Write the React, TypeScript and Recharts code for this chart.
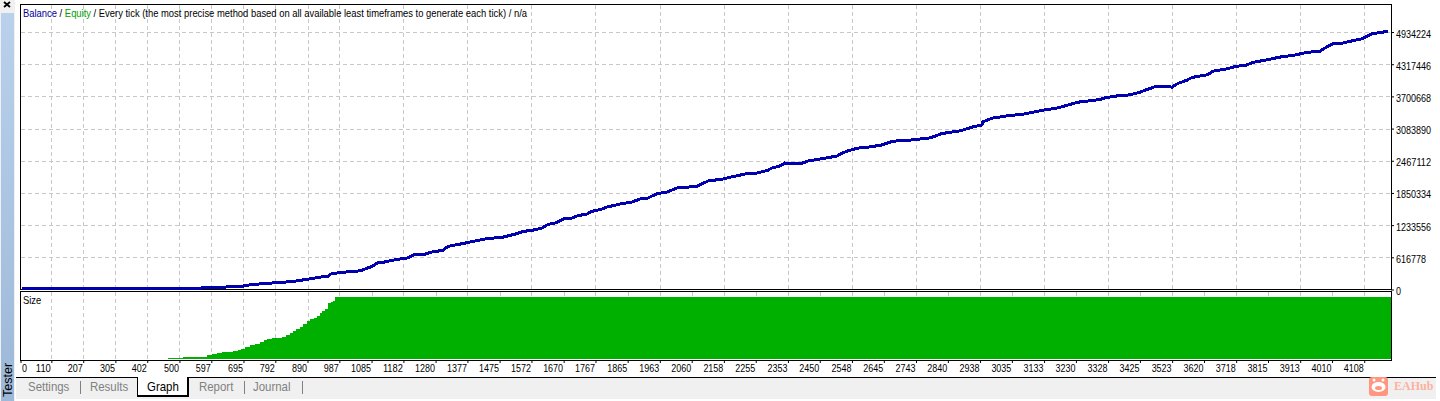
import React from "react";
import {
  CartesianGrid,
  ComposedChart,
  Area,
  Line,
  XAxis,
  YAxis,
} from "recharts";

// trade number at each read point of the balance curve
const tradeIds = [
  19, 500, 561, 567, 637, 643, 692, 698, 722, 759, 804, 844, 890, 926, 951, 957,
  987, 1039, 1054, 1079, 1094, 1103, 1118, 1139, 1161, 1191, 1216, 1246, 1270,
  1301, 1316, 1359, 1407, 1435, 1484, 1526, 1545, 1572, 1602, 1621, 1642, 1672,
  1694, 1712, 1739, 1755, 1785, 1800, 1846, 1876, 1901, 1925, 1953, 1983, 2014,
  2074, 2108, 2154, 2184, 2227, 2257, 2288, 2303, 2327, 2342, 2364, 2397, 2413,
  2458, 2501, 2516, 2534, 2562, 2601, 2638, 2671, 2729, 2784, 2821, 2875, 2915,
  2942, 2945, 2973, 3019, 3073, 3128, 3174, 3210, 3235, 3262, 3302, 3317, 3347,
  3393, 3424, 3445, 3475, 3506, 3521, 3539, 3567, 3582, 3628, 3637, 3646, 3689,
  3719, 3743, 3768, 3810, 3850, 3890, 3932, 3972, 3993, 4017, 4042, 4063, 4100,
  4130, 4179,
];

const balanceValues = [
  23000, 23000, 23000, 48000, 48000, 67200, 73000, 86400, 105600, 124800, 144000,
  163200, 207300, 245700, 264900, 303300, 336000, 360900, 380100, 437700, 483800,
  528000, 528000, 560600, 585600, 610500, 681600, 687300, 733400, 758400, 835200,
  887000, 950400, 983000, 1013700, 1079000, 1123100, 1142300, 1186500, 1257500,
  1282500, 1372700, 1378500, 1424600, 1455300, 1507100, 1551300, 1589700, 1655000,
  1685700, 1743300, 1762500, 1846900, 1877700, 1954500, 1987100, 2088900, 2127200,
  2173300, 2230900, 2242400, 2288500, 2338400, 2376800, 2434400, 2415200, 2434400,
  2472800, 2518900, 2568800, 2620700, 2664800, 2716700, 2741600, 2780000, 2851100,
  2876000, 2914400, 2998900, 3048800, 3125600, 3164000, 3221600, 3292600, 3336800,
  3375200, 3446200, 3490400, 3555700, 3599800, 3619000, 3651700, 3682400, 3715000,
  3740000, 3791800, 3843600, 3907000, 3901200, 3887800, 3958800, 4022200, 4074000,
  4123900, 4150800, 4195000, 4239100, 4291000, 4296700, 4362000, 4411900, 4463800,
  4496400, 4554000, 4579000, 4661500, 4732600, 4732600, 4765200, 4815100, 4911100,
  4957200,
];

const sizeTrades = [
  16, 463, 509, 546, 582, 597, 613, 628, 643, 661, 676, 686, 698, 713, 728, 744, 756,
  765, 780, 798, 810, 823, 835, 844, 853, 865, 874, 887, 896, 908, 917, 926, 932, 941,
  948, 951, 960, 966, 972, 4188,
];
const sizeValues = [
  0, 1.6, 2.7, 4, 6.5, 7.6, 9.2, 10.5, 11.8, 12.9, 14.5, 16.9, 18.9, 21.8, 24.2, 27.9,
  30.2, 31.8, 33.4, 33.9, 36, 38.2, 42.4, 44.7, 47.6, 52.1, 56.5, 61.3, 64.5, 66.1,
  69.4, 74.2, 77.4, 79.8, 80.6, 89.5, 91.9, 92.7, 100, 100,
];

const yTicks = [0, 616778, 1233556, 1850334, 2467112, 3083890, 3700668, 4317446, 4934224];
const xTicks = [
  16, 110, 207, 305, 402, 500, 597, 695, 792, 890, 987, 1085, 1182, 1280, 1377, 1475,
  1572, 1670, 1767, 1865, 1963, 2060, 2158, 2255, 2353, 2450, 2548, 2645, 2743, 2840,
  2938, 3035, 3133, 3230, 3328, 3425, 3523, 3620, 3718, 3815, 3913, 4010, 4108,
];
const xLabels = ["0", ...xTicks.slice(1).map(String)];
const tabs = ["Settings", "Results", "Graph", "Report", "Journal"];

const balanceData = tradeIds.map((trade, i) => ({
  trade,
  balance: balanceValues[i],
  equity: balanceValues[i],
}));
const sizeData = sizeTrades.map((trade, i) => ({ trade, size: sizeValues[i] }));

const X_DOMAIN: [number, number] = [16, 4188];
const BLUE = "#0000b0";
const GREEN = "#00b000";
const GRID = "#c8c8c8";
const UI_FONT = "'Liberation Sans', sans-serif";
const DIGIT_W = 5;

// the terminal font is narrower than anything installed, so digits get squeezed
const XTick = ({ x, y, index }: any) => (
  <text
    x={index === 0 ? x + 1 : x - 1}
    y={y + 7}
    textAnchor={index === 0 ? "start" : "end"}
    fontFamily={UI_FONT}
    fontSize={11}
    fill="#000"
    textLength={xLabels[index].length * DIGIT_W}
    lengthAdjust="spacingAndGlyphs"
  >
    {xLabels[index]}
  </text>
);

const YTick = ({ x, y, payload }: any) => (
  <text
    x={x + 1}
    y={y + 5}
    fontFamily={UI_FONT}
    fontSize={11}
    fill="#000"
    textLength={String(payload.value).length * DIGIT_W}
    lengthAdjust="spacingAndGlyphs"
  >
    {payload.value}
  </text>
);

const box = (
  left: number,
  top: number,
  width: number,
  height: number,
  style: React.CSSProperties = {}
): React.CSSProperties => ({
  position: "absolute",
  left,
  top,
  width,
  height,
  boxSizing: "border-box",
  ...style,
});

const label = (
  left: number,
  top: number,
  color: string,
  squeeze = 1,
  size = 11
): React.CSSProperties => ({
  position: "absolute",
  left,
  top,
  color,
  fontFamily: UI_FONT,
  fontSize: size,
  lineHeight: "14px",
  whiteSpace: "nowrap",
  transform: `scaleX(${squeeze})`,
  transformOrigin: "0 0",
});

const tabLefts = [28, 90, 147, 199, 253];
const barLefts = [80, 244, 302];

const App = () => {
  return (
    <div style={box(0, 0, 1440, 401, { background: "#fff", overflow: "hidden" })}>
      {/* tester window chrome */}
      <div style={box(0, 0, 15, 401, { background: "#f0f0f0" })} />
      <div
        style={box(1, 13, 13, 388, {
          background: "linear-gradient(#b9d1ec, #9db8d8)",
        })}
      />
      <svg style={{ position: "absolute", left: 3, top: 1 }} width={8} height={7}>
        <path d="M1 1L7 6M7 1L1 6" stroke="#000" strokeWidth={1.8} />
      </svg>
      <div
        style={{
          ...label(1, 397, "#000", 1, 12.5),
          transform: "rotate(-90deg)",
        }}
      >
        Tester
      </div>

      {/* plot frames */}
      <div style={box(20, 4, 1372, 286, { border: "1px solid #000" })} />
      <div style={box(20, 291, 1372, 70, { border: "1px solid #000" })} />

      <div style={{ position: "absolute", left: 0, top: 0 }}>
        <ComposedChart
          width={1440}
          height={300}
          data={balanceData}
          margin={{ top: 5, right: 0, bottom: 10, left: 21 }}
        >
          <CartesianGrid
            stroke={GRID}
            strokeDasharray="4 3"
            shapeRendering="crispEdges"
            horizontalValues={yTicks.slice(1)}
            verticalValues={xTicks.slice(1)}
          />
          <XAxis dataKey="trade" type="number" domain={X_DOMAIN} ticks={xTicks} hide />
          <YAxis
            orientation="right"
            width={49}
            domain={[0, 5462000]}
            ticks={yTicks}
            interval={0}
            axisLine={false}
            tick={<YTick />}
            tickLine={{ stroke: "#000" }}
            tickSize={3}
            tickMargin={1}
          />
          <Line
            dataKey="equity"
            stroke={GREEN}
            strokeWidth={3}
            dot={false}
            isAnimationActive={false}
            shapeRendering="crispEdges"
          />
          <Line
            dataKey="balance"
            stroke={BLUE}
            strokeWidth={3}
            dot={false}
            isAnimationActive={false}
            shapeRendering="crispEdges"
          />
        </ComposedChart>
      </div>

      <div style={{ position: "absolute", left: 0, top: 285 }}>
        <ComposedChart
          width={1440}
          height={95}
          data={sizeData}
          margin={{ top: 7, right: 49, bottom: 0, left: 21 }}
        >
          <CartesianGrid
            stroke={GRID}
            strokeDasharray="4 3"
            shapeRendering="crispEdges"
            horizontal={false}
            verticalValues={xTicks.slice(1)}
          />
          <XAxis
            dataKey="trade"
            type="number"
            domain={X_DOMAIN}
            ticks={xTicks}
            interval={0}
            height={20}
            axisLine={false}
            tick={<XTick />}
            tickLine={{ stroke: "#000" }}
            tickSize={3}
          />
          <YAxis hide domain={[-1.6, 108]} />
          <Area
            dataKey="size"
            type="stepAfter"
            baseValue={0}
            stroke="none"
            fill={GREEN}
            fillOpacity={1}
            isAnimationActive={false}
            shapeRendering="crispEdges"
          />
        </ComposedChart>
      </div>

      {/* chart captions */}
      <div style={label(23, 6, "#000", 0.855)}>
        <span style={{ color: "#0000a0" }}>Balance</span> /{" "}
        <span style={{ color: "#00a000" }}>Equity</span> / Every tick (the most precise
        method based on all available least timeframes to generate each tick) / n/a
      </div>
      <div style={label(23, 293, "#000", 0.855)}>Size</div>

      {/* tab strip */}
      <div style={box(16, 378, 1420, 21, { background: "#f0f0f0" })} />
      <div style={box(16, 377, 1420, 1, { background: "#000" })} />
      <div
        style={box(137, 377, 52, 20, {
          background: "#fff",
          borderLeft: "1px solid #000",
          borderRight: "2px solid #000",
          borderBottom: "2px solid #000",
        })}
      />
      {tabs.map((t, i) => (
        <div key={t} style={label(tabLefts[i], 380, t === "Graph" ? "#000" : "#808080", 0.88, 13)}>
          {t}
        </div>
      ))}
      {barLefts.map((x) => (
        <div key={x} style={box(x, 381, 1, 13, { background: "#808080" })} />
      ))}

      {/* EAHub mark */}
      <svg style={{ position: "absolute", left: 1369, top: 376 }} width={20} height={20}>
        <rect x={0} y={1} width={19} height={19} rx={3} fill="#ff9680" />
        <ellipse cx={9.5} cy={11} rx={7} ry={5} fill="#fff" />
        <circle cx={5} cy={4} r={1.5} fill="#fff" />
        <circle cx={14} cy={4} r={1.5} fill="#fff" />
        <ellipse cx={9.5} cy={12} rx={3.5} ry={2} fill="#ff9680" />
      </svg>
      <div
        style={{
          ...label(1394, 379, "#ffb0a0", 1, 12),
          fontFamily: "'Liberation Serif', serif",
          fontWeight: 700,
        }}
      >
        EAHub
      </div>
    </div>
  );
};

export default App;
